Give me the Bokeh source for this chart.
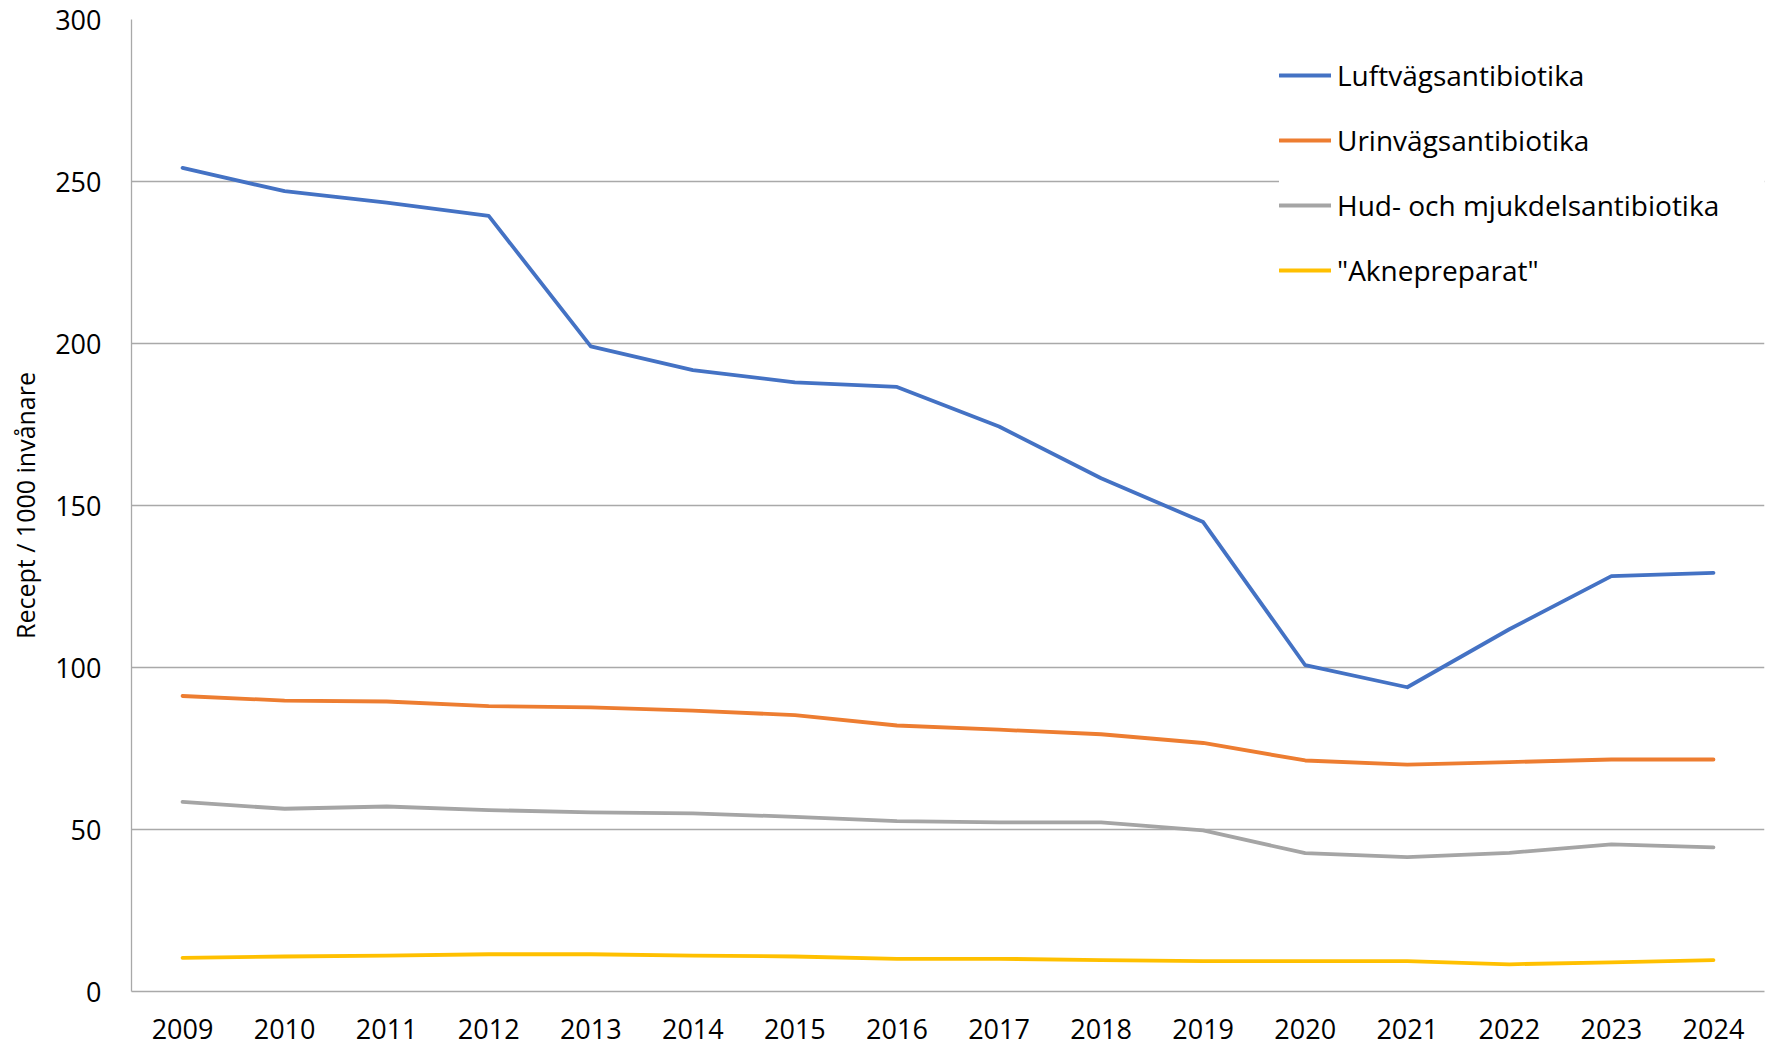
from bokeh.plotting import figure
from bokeh.models import Range1d, FixedTicker, Legend, LegendItem
from bokeh.embed import file_html
from bokeh.resources import INLINE

years = [2009, 2010, 2011, 2012, 2013, 2014, 2015, 2016, 2017, 2018, 2019, 2020, 2021, 2022, 2023, 2024]
luftvag = [254.2, 247.0, 243.5, 239.4, 199.1, 191.8, 188.0, 186.6, 174.4, 158.4, 144.9, 100.7, 93.9, 111.8, 128.2, 129.2]
urinvag = [91.2, 89.8, 89.5, 88.1, 87.7, 86.7, 85.3, 82.1, 80.8, 79.4, 76.7, 71.3, 70.0, 70.8, 71.6, 71.6]
hud = [58.5, 56.4, 57.1, 56.0, 55.3, 55.0, 53.9, 52.6, 52.2, 52.2, 49.7, 42.7, 41.5, 42.8, 45.4, 44.5]
akne = [10.4, 10.8, 11.1, 11.5, 11.5, 11.1, 10.8, 10.1, 10.1, 9.7, 9.4, 9.4, 9.4, 8.4, 9.0, 9.7]

series_names = ["Luftvägsantibiotika", "Urinvägsantibiotika", "Hud- och mjukdelsantibiotika", '"Aknepreparat"']
series_values = [luftvag, urinvag, hud, akne]
series_colors = ["#4472C4", "#ED7D31", "#A5A5A5", "#FFC000"]
y_ticks = [0, 50, 100, 150, 200, 250, 300]

FONT = "Open Sans"
GRID = "#A9A9A9"

p = figure(width=1765, height=1046, output_backend="svg", toolbar_location=None,
           x_range=Range1d(2008.5, 2024.5), y_range=Range1d(0, 300),
           min_border_left=131, min_border_right=1, min_border_top=19, min_border_bottom=55)
p.outline_line_color = None
p.background_fill_color = "white"

items = []
for name, vals, col in zip(series_names, series_values, series_colors):
    r = p.line(years, vals, line_color=col, line_width=3.8, line_cap="round", line_join="round")
    items.append(LegendItem(label=name, renderers=[r]))

p.xgrid.grid_line_color = None
p.ygrid.grid_line_color = GRID
p.ygrid.grid_line_width = 1.3
p.ygrid.ticker = FixedTicker(ticks=y_ticks)

p.yaxis.ticker = FixedTicker(ticks=y_ticks)
p.xaxis.ticker = FixedTicker(ticks=years)
for ax in (p.xaxis[0], p.yaxis[0]):
    ax.axis_line_color = GRID
    ax.axis_line_width = 1.3
    ax.major_tick_line_color = None
    ax.minor_tick_line_color = None
    ax.major_tick_out = 0
    ax.major_tick_in = 0
    ax.major_label_text_font = FONT
    ax.major_label_text_font_size = "27px"
    ax.major_label_text_color = "black"

p.yaxis.major_label_standoff = 30
p.xaxis.major_label_standoff = 27
p.yaxis.axis_label = "Recept / 1000 invånare"
p.yaxis.axis_label_text_font = FONT
p.yaxis.axis_label_text_font_size = "25px"
p.yaxis.axis_label_text_font_style = "normal"
p.yaxis.axis_label_text_color = "black"
p.yaxis.axis_label_standoff = 10

legend = Legend(items=items, location=(1148, 696))
legend.background_fill_color = "white"
legend.background_fill_alpha = 1.0
legend.border_line_color = None
legend.label_text_font = FONT
legend.label_text_font_size = "28px"
legend.label_text_color = "black"
legend.glyph_width = 52
legend.glyph_height = 50
legend.label_height = 50
legend.label_width = 436
legend.label_standoff = 6
legend.spacing = 15
legend.padding = 30
legend.margin = 0
p.add_layout(legend, "center")

open("out.html", "w").write(file_html(p, INLINE))
